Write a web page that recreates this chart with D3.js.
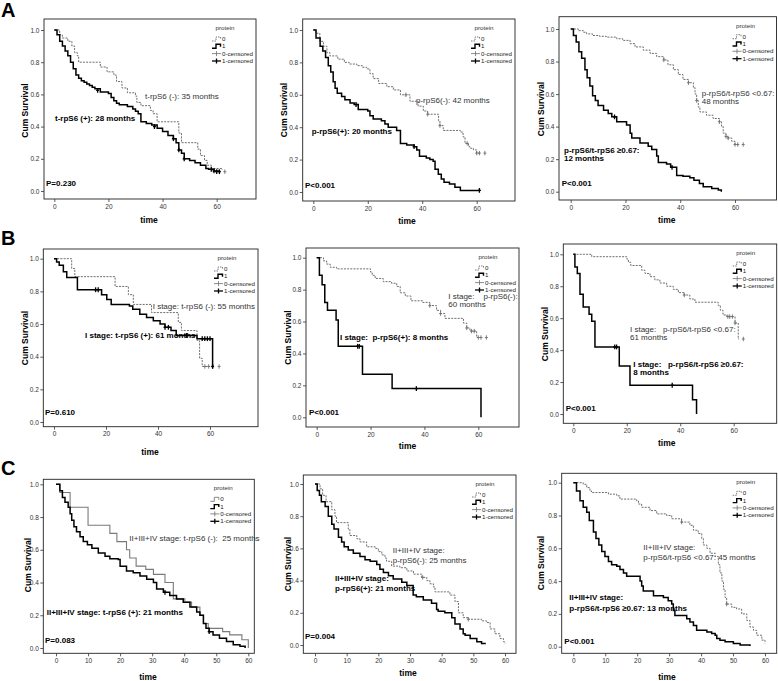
<!DOCTYPE html>
<html><head><meta charset="utf-8">
<script src="https://cdn.jsdelivr.net/npm/d3@7"></script>
<style>body{margin:0;background:#fff} svg{display:block} text{font-family:"Liberation Sans",Arial,sans-serif}</style>
</head><body><svg id="c" width="778" height="681"></svg>
<script>
// ---------- data ----------
const yTicks = [0, 0.2, 0.4, 0.6, 0.8, 1.0];
const xTicksAB = [0, 20, 40, 60];
const xTicksC = [0, 10, 20, 30, 40, 50, 60];
const legendTitle = "protein";
const legendLabels = ["0", "1", "0-censored", "1-censored"];
const panelLetters = ["A", "B", "C"];

// A1 t-rpS6
const a1Pos = [[0,1],[1,0.97],[2,0.93],[3,0.90],[4,0.87],[5,0.84],[6,0.80],[7,0.76],[8,0.72],[9,0.70],[10,0.685],[11,0.675],[12,0.665],[13,0.655],[14,0.645],[15,0.635],[17,0.615],[20,0.605],[21,0.58],[22,0.56],[23,0.545],[24,0.535],[27,0.525],[29,0.51],[30,0.495],[31,0.48],[32,0.43],[34,0.42],[36,0.41],[38,0.39],[40,0.37],[42,0.345],[44,0.325],[45,0.30],[46,0.255],[47,0.235],[48,0.20],[50,0.19],[52,0.175],[54,0.16],[56,0.14],[57,0.135],[59,0.125],[61,0.12]];
const a1PosCens = [[16,0.625],[37,0.40],[44,0.325],[46,0.255],[48,0.20],[58,0.135],[59,0.125],[60,0.12],[61,0.12]];
const a1Neg = [[0,1],[2,0.97],[3,0.95],[5,0.93],[6.5,0.90],[7.5,0.86],[8.5,0.84],[9,0.80],[17,0.77],[19.5,0.74],[22,0.72],[23,0.68],[25,0.64],[27,0.61],[30,0.59],[30.5,0.55],[32,0.53],[35.5,0.50],[36.5,0.48],[38,0.43],[46,0.36],[47,0.30],[53,0.26],[54,0.22],[55.5,0.19],[56.5,0.16],[58,0.14],[62,0.13]];
const a1NegCens = [[63,0.12]];

// A2 p-rpS6
const a2Pos = [[0,1],[1,0.95],[2.5,0.90],[3.5,0.87],[4.5,0.83],[5.5,0.78],[6.4,0.74],[7.3,0.68],[8,0.64],[8.8,0.61],[10.4,0.59],[11.6,0.57],[13.5,0.55],[15,0.54],[16.5,0.51],[20,0.50],[20.8,0.47],[22,0.45],[25,0.44],[26.3,0.42],[27.5,0.40],[30.6,0.38],[32,0.30],[34.3,0.29],[37,0.28],[38,0.26],[39,0.22],[41.5,0.21],[42.8,0.20],[44,0.19],[44.7,0.14],[45.9,0.11],[47,0.08],[48,0.06],[50,0.05],[52,0.03],[54,0.01],[61,0.01]];
const a2PosCens = [[15.7,0.54],[37,0.28],[61,0.01]];
const a2Neg = [[0,1],[1,0.98],[2.4,0.93],[3.7,0.90],[5,0.86],[6.1,0.84],[9,0.82],[11.4,0.80],[13.2,0.79],[16,0.78],[18,0.77],[19.6,0.76],[20.8,0.73],[22,0.70],[24,0.67],[27,0.65],[29.4,0.63],[32,0.60],[35.5,0.56],[38.5,0.53],[40.4,0.50],[42,0.48],[46,0.44],[46.5,0.41],[47.7,0.38],[54,0.37],[55,0.34],[55.7,0.30],[57,0.28],[57.5,0.27],[58.8,0.26],[60,0.24],[61,0.24]];
const a2NegCens = [[34,0.60],[42,0.48],[46.5,0.41],[56.5,0.30],[60,0.24],[61,0.24],[63,0.24]];

// A3 ratio
const a3Pos = [[0,1],[1,0.96],[2,0.92],[3,0.86],[4,0.82],[5.2,0.75],[6,0.70],[7,0.65],[8,0.59],[9,0.56],[10,0.53],[12,0.50],[13.7,0.48],[15,0.46],[16.8,0.43],[20.4,0.41],[21.7,0.36],[22.3,0.33],[25.3,0.30],[28.3,0.28],[29.6,0.26],[31.4,0.22],[32,0.18],[35,0.17],[36.5,0.15],[38.7,0.10],[41,0.095],[43.5,0.085],[45,0.07],[47,0.05],[48.4,0.03],[51.5,0.02],[53.9,0.01],[55,0.0]];
const a3PosCens = [[16,0.46],[37,0.15]];
const a3Neg = [[0,1],[2.8,0.99],[4.6,0.98],[5.8,0.97],[8,0.96],[10.5,0.955],[13,0.95],[16.8,0.94],[19,0.93],[21.7,0.91],[23.5,0.89],[26.5,0.87],[29,0.85],[31.4,0.83],[34,0.81],[35.5,0.78],[37.5,0.75],[39.3,0.72],[41,0.69],[43,0.67],[44.8,0.64],[45.4,0.60],[46,0.56],[46.6,0.52],[47.2,0.49],[49.6,0.47],[52,0.45],[54.3,0.43],[55.1,0.40],[55.7,0.36],[56.7,0.34],[57.5,0.33],[58.8,0.31],[60,0.29],[61,0.29]];
const a3NegCens = [[34,0.81],[43,0.67],[46,0.56],[54.3,0.43],[56.7,0.34],[57.5,0.33],[60,0.29],[61,0.29],[63,0.29]];

// B1 stage I t-rpS6
const b1Pos = [[0,1],[1,0.98],[2,0.96],[3.6,0.92],[4.9,0.885],[9,0.81],[18.3,0.78],[20.3,0.75],[22,0.72],[29,0.71],[30.3,0.69],[33,0.66],[35.6,0.64],[38.2,0.62],[40.8,0.60],[42.7,0.58],[45,0.56],[47,0.53],[55,0.51],[61,0.34],[61.5,0.34]];
const b1PosCens = [[16,0.81],[17,0.81],[42.7,0.58],[44,0.58],[51,0.53],[57,0.51],[58,0.51],[59,0.51],[60,0.51],[61,0.34]];
const b1Neg = [[0,1],[6.8,0.94],[8,0.89],[23.5,0.83],[28.6,0.78],[30.5,0.72],[37.5,0.67],[47.8,0.61],[49,0.56],[55,0.50],[56,0.39],[57,0.34],[60,0.34]];
const b1NegCens = [[58,0.34],[59.5,0.34],[63.5,0.34]];

// B2 stage I p-rpS6
const b2Pos = [[0,1],[1,0.89],[2,0.83],[3,0.72],[4,0.67],[7.2,0.61],[8,0.445],[17,0.27],[28,0.18],[61,0.0]];
const b2PosCens = [[15.2,0.445],[15.8,0.445],[37,0.18]];
const b2Neg = [[0,1],[2.5,0.98],[3.7,0.96],[5,0.94],[7.4,0.93],[20,0.91],[20.6,0.89],[21.7,0.87],[24.7,0.85],[27.8,0.84],[29.7,0.82],[31,0.78],[32.9,0.76],[35,0.73],[39.3,0.72],[42,0.70],[44.5,0.67],[46,0.65],[47.6,0.62],[54.5,0.59],[55.7,0.56],[56.9,0.54],[59.4,0.50],[61,0.50]];
const b2NegCens = [[42,0.70],[46,0.65],[55.7,0.56],[57.5,0.54],[58.5,0.54],[60,0.50],[61,0.50],[63,0.50]];

// B3 stage I ratio
const b3Pos = [[0,1],[0.6,0.92],[1.5,0.88],[2.5,0.75],[3.7,0.67],[5.9,0.625],[6.9,0.58],[8.1,0.42],[17.2,0.30],[21.2,0.18],[44.6,0.09],[46.1,0.0]];
const b3PosCens = [[15.5,0.42],[16.2,0.42],[37,0.18]];
const b3Neg = [[0,1],[6.9,0.985],[20,0.97],[20.6,0.95],[21.5,0.93],[25.6,0.90],[26.8,0.88],[28.7,0.86],[30.5,0.84],[32.4,0.82],[34.9,0.80],[37.4,0.78],[39.3,0.76],[41.5,0.745],[43.6,0.72],[45.5,0.70],[54.2,0.68],[55,0.65],[56,0.62],[57.4,0.61],[60.5,0.57],[61.7,0.47],[62,0.47]];
const b3NegCens = [[41.5,0.745],[57.8,0.61],[58.5,0.61],[59.5,0.61],[60.5,0.57],[63.6,0.47]];

// C1 stage II-IV t-rpS6
const c1Pos = [[0,1],[1.2,0.96],[2,0.92],[2.8,0.89],[3.8,0.86],[4.4,0.82],[4.9,0.78],[5.6,0.74],[6.4,0.71],[7.5,0.68],[8.5,0.65],[9.8,0.63],[11.2,0.61],[13.2,0.58],[15.3,0.56],[16.8,0.545],[19.4,0.54],[20,0.50],[22,0.47],[24.1,0.46],[26.2,0.44],[28.3,0.42],[30.4,0.40],[31.4,0.36],[33.5,0.34],[35.5,0.32],[37.6,0.30],[39.7,0.28],[41.8,0.25],[43.9,0.22],[44.9,0.20],[46,0.15],[46.8,0.12],[47.8,0.10],[49,0.08],[51,0.06],[53.2,0.04],[55.3,0.02],[57.4,0.01],[59,0.0]];
const c1PosCens = [[34,0.34],[47.8,0.10]];
const c1Neg = [[0,1],[1.2,0.95],[4.4,0.86],[10,0.75],[16.8,0.70],[19,0.65],[22,0.60],[23,0.55],[25,0.50],[28,0.48],[30.4,0.45],[34,0.40],[36.6,0.30],[40.2,0.28],[42.3,0.25],[44.9,0.20],[46,0.15],[47.5,0.12],[52,0.10],[54.2,0.08],[58,0.05],[60,0.0]];
const c1NegCens = [];

// C2 stage II-IV p-rpS6
const c2Pos = [[0,1],[0.7,0.96],[1.4,0.93],[2,0.89],[3.2,0.86],[4.2,0.80],[5.3,0.75],[6,0.72],[7.4,0.67],[8.4,0.64],[9.2,0.61],[10.5,0.59],[12.1,0.57],[14.2,0.55],[15.8,0.53],[17.4,0.52],[19.5,0.50],[20.5,0.47],[21.6,0.45],[23.2,0.43],[24.7,0.41],[27.4,0.39],[29,0.37],[31,0.31],[32,0.30],[34.2,0.28],[36.8,0.26],[38.4,0.22],[38.9,0.21],[41,0.20],[43.2,0.17],[44.2,0.13],[45.8,0.10],[46.8,0.07],[47.4,0.06],[49,0.04],[51.1,0.02],[52.6,0.01],[53.7,0.005]];
const c2PosCens = [];
const c2Neg = [[0,1],[1.6,0.97],[2.4,0.93],[3.5,0.89],[5.3,0.84],[6.3,0.80],[6.8,0.76],[10.5,0.72],[11,0.68],[13.2,0.66],[14.2,0.64],[16.3,0.61],[19,0.60],[20,0.58],[21.1,0.56],[22.1,0.54],[22.6,0.52],[24.2,0.49],[26.8,0.48],[29,0.46],[31.1,0.44],[33.7,0.42],[35.3,0.40],[36.3,0.38],[37.4,0.36],[37.9,0.33],[42.6,0.31],[44.2,0.27],[45.3,0.20],[46.8,0.17],[48.4,0.16],[52.6,0.15],[54.2,0.14],[55.3,0.10],[56.8,0.07],[58.4,0.04],[59.5,0.02],[60,0.01]];
const c2NegCens = [[34,0.42],[48.4,0.16]];

// C3 stage II-IV ratio
const c3Pos = [[0,1],[1,0.95],[2.1,0.89],[3.1,0.85],[4.2,0.82],[5,0.77],[6.3,0.70],[7.1,0.66],[8,0.62],[8.9,0.58],[9.9,0.55],[11,0.52],[12,0.50],[13.6,0.49],[14.6,0.47],[15.7,0.45],[16.7,0.43],[20.9,0.40],[21.4,0.37],[21.9,0.34],[25.1,0.31],[28.2,0.30],[29.7,0.28],[30.8,0.26],[31.3,0.22],[31.8,0.19],[35.5,0.17],[36.5,0.15],[37.6,0.13],[38.6,0.10],[41.8,0.09],[43.3,0.08],[44.4,0.07],[44.9,0.05],[45.9,0.04],[47.5,0.03],[50.1,0.02],[52.2,0.01],[55.3,0.005]];
const c3PosCens = [];
const c3Neg = [[0,1],[3.1,0.99],[4.2,0.97],[5.2,0.95],[5.7,0.94],[11,0.93],[13.6,0.92],[14.6,0.90],[19.8,0.89],[20.4,0.87],[21.4,0.85],[24,0.83],[26.1,0.81],[29.2,0.80],[30.8,0.78],[33.9,0.76],[36.5,0.74],[37.6,0.71],[39.1,0.69],[40.2,0.66],[40.7,0.62],[41.8,0.60],[42.8,0.57],[44.4,0.55],[45.4,0.50],[45.9,0.45],[46.5,0.40],[47,0.35],[47.5,0.30],[48,0.26],[49.6,0.24],[51.1,0.23],[52.7,0.20],[54.3,0.16],[55.3,0.12],[56.4,0.10],[57.4,0.07],[59,0.04],[60,0.02]];
const c3NegCens = [[33.9,0.76],[48,0.26]];

const pValues = ["P=0.230","P<0.001","P<0.001","P=0.610","P<0.001","P<0.001","P=0.083","P=0.004","P<0.001"];

// ---------- layout ----------
const panels = [
 {frame:[44,19,212,180], xr:[54.3,216.7], yr:[191,30], xt:xTicksAB, neg:a1Neg,pos:a1Pos,negC:a1NegCens,posC:a1PosCens, negSolid:false,
  p:[46,183], cum:[25,110.5], time:[149,220],
  labels:[{t:["t-rpS6 (+): 28 months"],x:55,y:118.3,b:true},{t:["t-rpS6 (-): 35 months"],x:145,y:96,b:false}]},
 {frame:[302.7,19,212.3,182], xr:[313.3,476.7], yr:[192,30], xt:xTicksAB, neg:a2Neg,pos:a2Pos,negC:a2NegCens,posC:a2PosCens, negSolid:false,
  p:[305,185], cum:[283.7,110], time:[407,221],
  labels:[{t:["p-rpS6(+): 20 months"],x:311.7,y:131,b:true},{t:["p-rpS6(-): 42 months"],x:416,y:100,b:false}]},
 {frame:[559,16.7,217.5,183.3], xr:[570.7,735], yr:[191.7,29], xt:xTicksAB, neg:a3Neg,pos:a3Pos,negC:a3NegCens,posC:a3PosCens, negSolid:false,
  p:[561.7,183.3], cum:[541,109], time:[666.7,220],
  labels:[{t:["p-rpS6/t-rpS6 \u22650.67:","12 months"],x:564,y:150.5,b:true,dy:8},{t:["p-rpS6/t-rpS6 <0.67:","48 months"],x:701.7,y:93.5,b:false,dy:8}]},
 {frame:[43.3,249,214.7,177.7], xr:[54,210], yr:[422,258.7], xt:xTicksAB, neg:b1Neg,pos:b1Pos,negC:b1NegCens,posC:b1PosCens, negSolid:false,
  p:[45,411.7], cum:[25,338], time:[150,452],
  labels:[{t:["I stage: t-rpS6 (-): 55 months"],x:152.7,y:305.7,b:false},{t:["I stage: t-rpS6 (+): 61 months"],x:85,y:335,b:true}]},
 {frame:[306,248,213,179], xr:[316.7,478.3], yr:[417.3,257.7], xt:xTicksAB, neg:b2Neg,pos:b2Pos,negC:b2NegCens,posC:b2PosCens, negSolid:false,
  p:[309,411.7], cum:[288.3,337.5], time:[407.5,446],
  labels:[{t:["I stage:\u00a0\u00a0\u00a0 p-rpS6(-):","60 months"],x:448.3,y:296,b:false,dy:8.5},{t:["I stage:\u00a0 p-rpS6(+): 8 months"],x:340,y:337.3,b:true}]},
 {frame:[563.3,244,213.4,179.3], xr:[573.3,733.7], yr:[414,254.3], xt:xTicksAB, neg:b3Neg,pos:b3Pos,negC:b3NegCens,posC:b3PosCens, negSolid:false,
  p:[565.7,407.7], cum:[545,334], time:[666.7,443.3],
  labels:[{t:["I stage:\u00a0\u00a0 p-rpS6/t-rpS6 <0.67:","61 months"],x:630,y:329,b:false,dy:8},{t:["I stage:\u00a0\u00a0 p-rpS6/t-rpS6 \u22650.67:","8 months"],x:633.3,y:364.5,b:true,dy:8}]},
 {frame:[43.3,479.3,211,174], xr:[56,248.3], yr:[648,484.3], xt:xTicksC, neg:c1Neg,pos:c1Pos,negC:c1NegCens,posC:c1PosCens, negSolid:true,
  p:[45,640], cum:[28.3,565], time:[148,676.7],
  labels:[{t:["II+III+IV stage: t-rpS6 (-):\u00a0 25 months"],x:129.3,y:538.3,b:false},{t:["II+III+IV stage: t-rpS6 (+): 21 months"],x:46.7,y:612.3,b:true}]},
 {frame:[303.3,475,212.7,178.3], xr:[315,505], yr:[645,484], xt:xTicksC, neg:c2Neg,pos:c2Pos,negC:c2NegCens,posC:c2PosCens, negSolid:false,
  p:[305,635.7], cum:[288,564], time:[408,673],
  labels:[{t:["II+III+IV stage:","p-rpS6(-): 25 months"],x:392.7,y:550,b:false,dy:10},{t:["II+III+IV stage:","p-rpS6(+): 21 months"],x:335,y:577.7,b:true,dy:10.6}]},
 {frame:[561.7,473.3,215,180], xr:[573.3,765], yr:[646.7,482.7], xt:xTicksC, neg:c3Neg,pos:c3Pos,negC:c3NegCens,posC:c3PosCens, negSolid:false,
  p:[564.3,640.7], cum:[541,563], time:[667,676.7],
  labels:[{t:["II+III+IV stage:","p-rpS6/t-rpS6 <0.67: 45 months"],x:643.3,y:547.3,b:false,dy:10},{t:["II+III+IV stage:","p-rpS6/t-rpS6 \u22650.67: 13 months"],x:569.3,y:596.7,b:true,dy:11.6}]}
];
const letterPos = [[1,17],[1,245],[1,475]];

const svg = d3.select("#c");
const GRAY = "#6e6e6e";

panelLetters.forEach((L,i)=>{
  svg.append("text").attr("x",letterPos[i][0]).attr("y",letterPos[i][1])
    .attr("font-size",20).attr("font-weight","bold").attr("fill","#000").text(L);
});

panels.forEach((P,pi)=>{
  const g = svg.append("g");
  const [fx,fy,fw,fh] = P.frame;
  const x = d3.scaleLinear().domain([0,60]).range(P.xr);
  const y = d3.scaleLinear().domain([0,1]).range(P.yr);

  g.append("rect").attr("x",fx).attr("y",fy).attr("width",fw).attr("height",fh)
    .attr("fill","none").attr("stroke","#222").attr("stroke-width",0.9);

  const ya = g.append("g").attr("transform",`translate(${fx},0)`)
    .call(d3.axisLeft(y).tickValues(yTicks).tickSize(3).tickPadding(1.5).tickFormat(d3.format(".1f")));
  const xa = g.append("g").attr("transform",`translate(0,${fy+fh})`)
    .call(d3.axisBottom(x).tickValues(P.xt).tickSize(3).tickPadding(2));
  [ya,xa].forEach(a=>{
    a.select(".domain").remove();
    a.selectAll("line").attr("stroke","#333").attr("stroke-width",0.8);
    a.selectAll("text").attr("font-size",6.5).attr("fill","#333")
      .attr("font-family","'Liberation Sans',Arial,sans-serif");
  });

  const line = d3.line().x(d=>x(d[0])).y(d=>y(d[1])).curve(d3.curveStepAfter);
  // group 0
  g.append("path").attr("d",line(P.neg)).attr("fill","none")
    .attr("stroke",P.negSolid?"#7a7a7a":GRAY).attr("stroke-width",P.negSolid?1.1:1)
    .attr("stroke-dasharray",P.negSolid?null:"2,1.2");
  // group 1
  g.append("path").attr("d",line(P.pos)).attr("fill","none")
    .attr("stroke","#000").attr("stroke-width",1.5);

  const cens = (arr,col,w,len)=>{
    arr.forEach(d=>{
      g.append("line").attr("x1",x(d[0])).attr("x2",x(d[0])).attr("y1",y(d[1])-len).attr("y2",y(d[1])+len)
        .attr("stroke",col).attr("stroke-width",w);
      g.append("line").attr("x1",x(d[0])-1.5).attr("x2",x(d[0])+1.5).attr("y1",y(d[1])).attr("y2",y(d[1]))
        .attr("stroke",col).attr("stroke-width",w);
    });
  };
  cens(P.negC,GRAY,0.9,2.2);
  cens(P.posC,"#000",1.3,2.4);

  // legend
  const lx = fx+fw-44, ly = fy+9;
  g.append("text").attr("x",fx+fw-31).attr("y",ly).attr("dy","0.35em").attr("text-anchor","middle")
    .attr("font-size",6.2).attr("fill","#333").text(legendTitle);
  const rows = [11,18.3,25.6,33];
  legendLabels.forEach((lab,k)=>{
    const yy = ly+rows[k];
    if(k<2){
      const p = `M${lx},${yy+2}h4v-4h4.5v2.5`;
      g.append("path").attr("d",p).attr("fill","none")
        .attr("stroke",k==0?(P.negSolid?"#7a7a7a":GRAY):"#000").attr("stroke-width",k==0?0.9:1.4)
        .attr("stroke-dasharray",(k==0&&!P.negSolid)?"1.5,1":null);
    } else {
      const col = k==2?GRAY:"#000", w = k==2?0.8:1.3;
      g.append("line").attr("x1",lx).attr("x2",lx+9).attr("y1",yy).attr("y2",yy).attr("stroke",col).attr("stroke-width",w);
      g.append("line").attr("x1",lx+4.5).attr("x2",lx+4.5).attr("y1",yy-2.5).attr("y2",yy+2.5).attr("stroke",col).attr("stroke-width",w);
    }
    g.append("text").attr("x",lx+10).attr("y",yy).attr("dy","0.35em").attr("font-size",6.2).attr("fill","#222").text(lab);
  });

  // P value
  g.append("text").attr("x",P.p[0]).attr("y",P.p[1]).attr("dy","0.35em")
    .attr("font-size",8).attr("font-weight","bold").attr("fill","#000").text(pValues[pi]);
  // axis titles
  g.append("text").attr("transform",`translate(${P.cum[0]},${P.cum[1]}) rotate(-90)`)
    .attr("text-anchor","middle").attr("dy","0.35em").attr("font-size",8.5).attr("font-weight","bold").text("Cum Survival");
  g.append("text").attr("x",P.time[0]).attr("y",P.time[1]).attr("dy","0.35em").attr("text-anchor","middle")
    .attr("font-size",8.5).attr("font-weight","bold").text("time");
  // annotations
  P.labels.forEach(L=>{
    L.t.forEach((s,k)=>{
      g.append("text").attr("x",L.x).attr("y",L.y+k*(L.dy||0)).attr("dy","0.35em")
        .attr("font-size",8).attr("font-weight",L.b?"bold":"normal").attr("fill",L.b?"#000":"#333").text(s);
    });
  });
});
</script></body></html>
